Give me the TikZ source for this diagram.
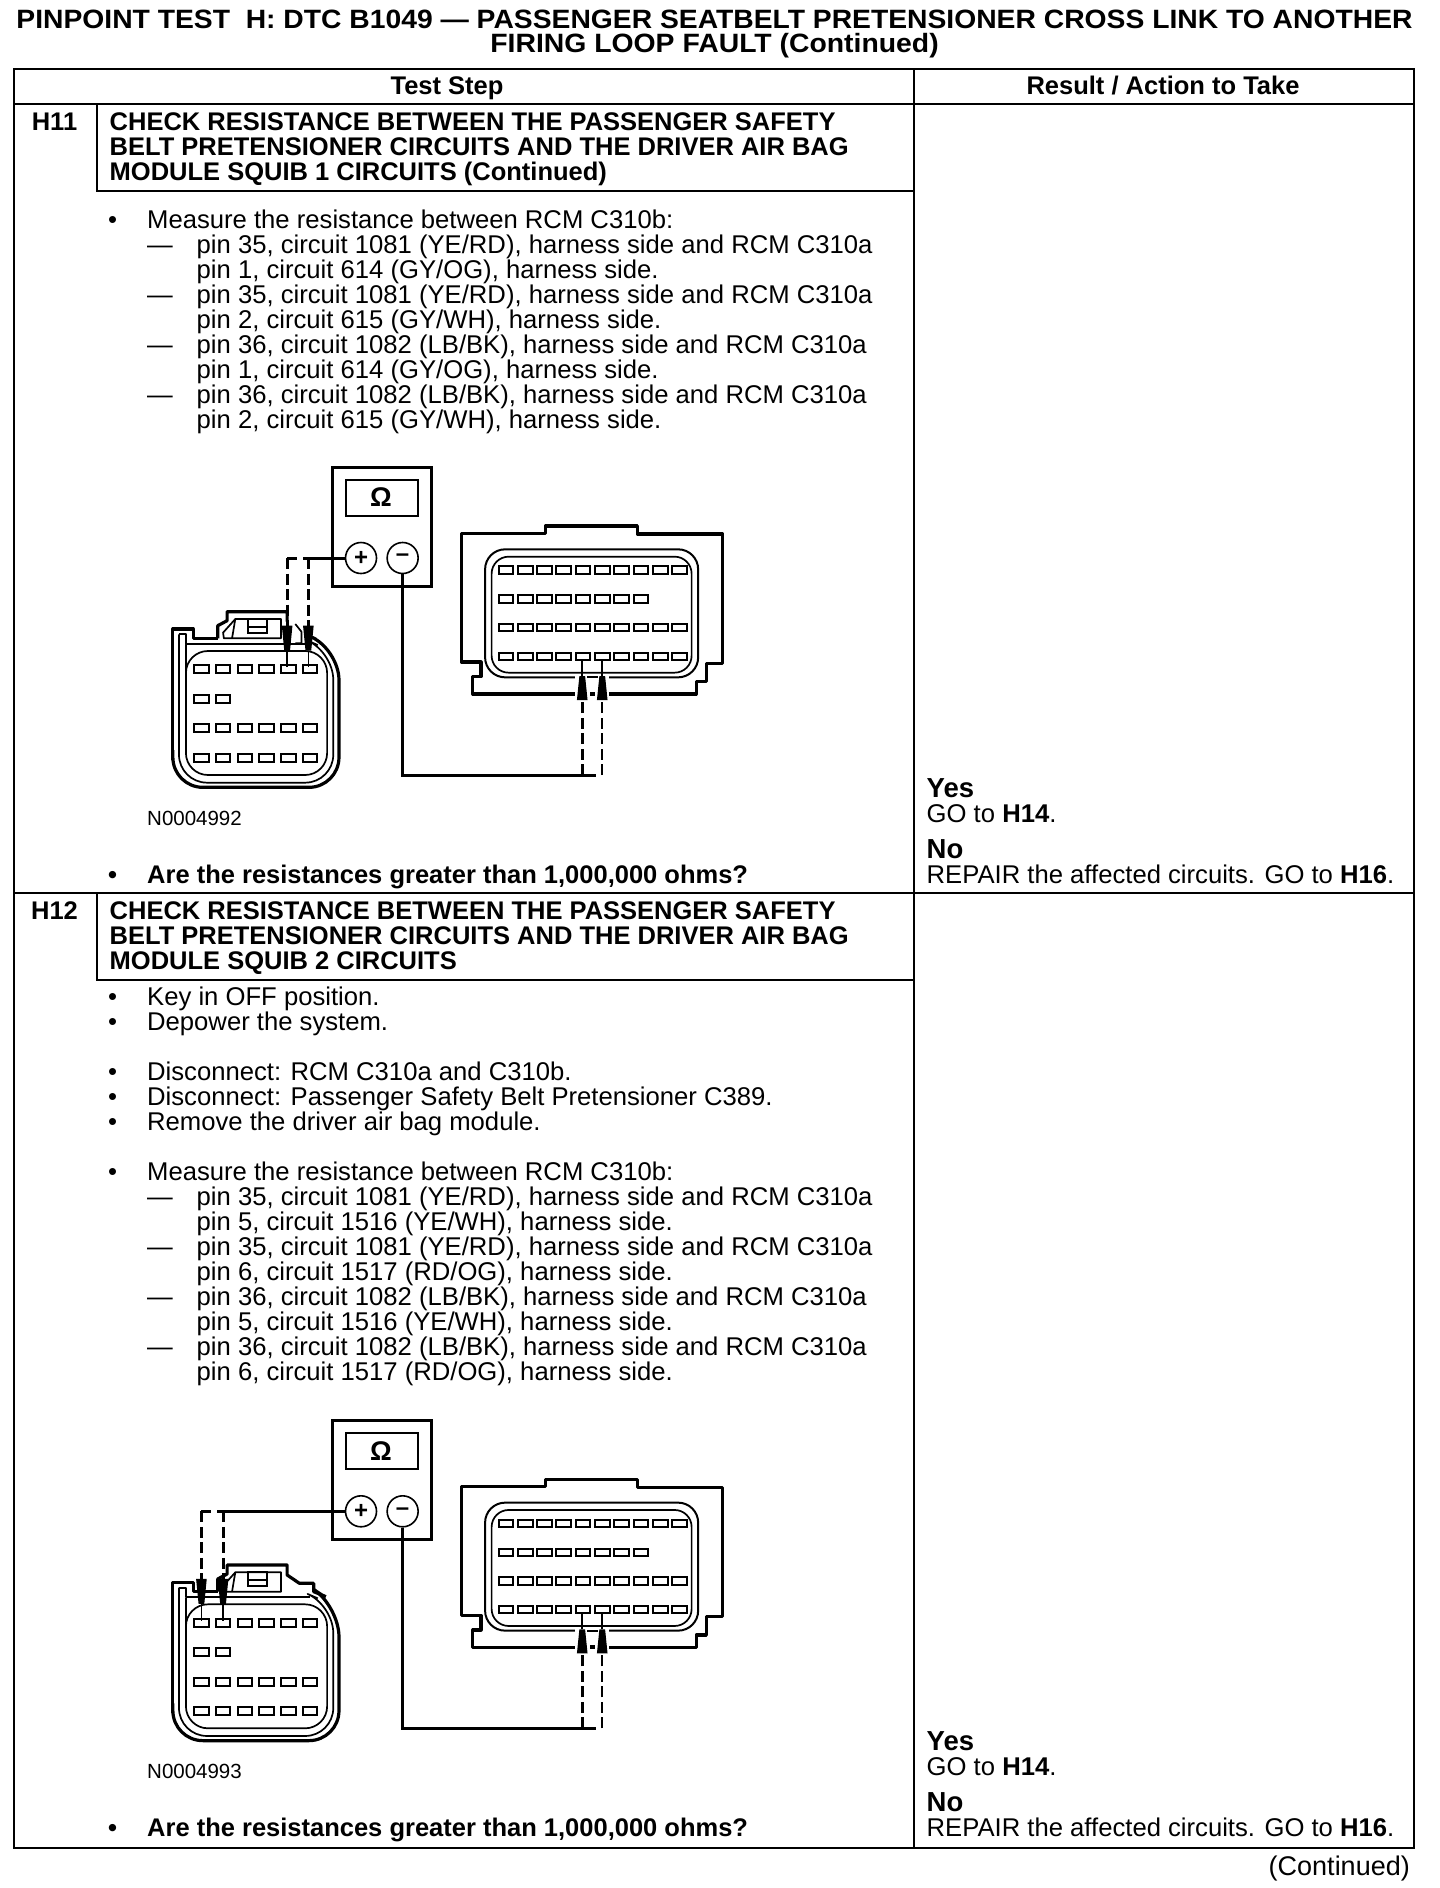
\documentclass[tikz,border=0pt]{standalone}
\usepackage{fontspec}
\setmainfont{Liberation Sans}
\tikzset{
  tbl/.style={line width=2pt,line cap=rect},
  txt/.style={inner sep=0pt,font=\fontsize{25.65}{25}\selectfont},
  btxt/.style={inner sep=0pt,font=\fontsize{25.5}{25}\selectfont\bfseries},
  ttl/.style={inner sep=0pt,font=\fontsize{26.5}{25}\selectfont\bfseries},
  ylab/.style={inner sep=0pt,font=\fontsize{27.5}{25}\selectfont\bfseries},
  wire/.style={line width=3pt},
  dwire/.style={line width=3pt,dash pattern=on 11pt off 4.5pt},
  outl/.style={line width=3.2pt,line join=round},
  thin1/.style={line width=1.7pt,line join=round},
  pinbox/.style={line width=2pt,draw=black,fill=white},
  term/.style={circle,draw,line width=1.6pt,fill=white,minimum size=31pt,inner sep=0pt,font=\fontsize{24}{24}\selectfont\bfseries}
}
\newcommand{\bul}[1]{\makebox[39pt][l]{•}#1}
\newcommand{\dsh}[1]{\hspace*{39pt}\makebox[49.5pt][l]{—}#1}
\newcommand{\cont}[1]{\hspace*{88.5pt}#1}
\newcommand{\probedown}[2]{\fill (#1-13,#2) -- (#1+13,#2) -- (#1+7,#2+75) -- (#1-7,#2+75) -- cycle;
  \draw[line width=1.6pt] (#1,#2+75) -- (#1,#2+125);}
\newcommand{\probeup}[2]{\fill (#1-13,#2) -- (#1+13,#2) -- (#1+7,#2-72) -- (#1-7,#2-72) -- cycle;
  \draw[line width=1.6pt] (#1,#2-72) -- (#1,#2-122);}
\newcommand{\meterdiagram}[3]{%
\begin{scope}[shift={(130pt,{-(450pt+#2)})},x=0.40816pt,y=-0.33333pt]
  % right connector
  \draw[outl] (812,636) -- (812,250) -- (1018,250) -- (1018,228) -- (1243,228) -- (1243,252) -- (1452,252)
     -- (1452,640) -- (1412,640) -- (1412,695) -- (1387,695) -- (1387,732) -- (840,732) -- (840,680)
     -- (860,680) -- (860,636) -- cycle;
  \draw[line width=2pt,rounded corners=20pt] (870,298) rectangle (1392,682);
  \draw[thin1,rounded corners=17pt] (886,320) rectangle (1376,668);
  \foreach \r/\n in {360/9,447/7,533/9,619/9}
    \foreach \i in {0,...,\n}
      \draw[pinbox] ({921+\i*47.3-18},\r-11) rectangle ({921+\i*47.3+18},\r+11);
  \fill[white] (1090,672) rectangle (1174,748);
  \fill (1126,726) rectangle (1140,738);
  \draw[thin1] (1120,682) -- (1146,682);
  % left connector
  \fill[white] (105,485) rectangle (512,1012);
  \draw[thin1,rounded corners=22pt] (137,650) -- (137,975) -- (483,975) -- (483,603) -- (137,603) -- cycle;
  \draw[thin1,rounded corners=28pt] (120,553) -- (120,998) -- (498,998) -- (498,605) -- (460,585);
  \draw[thin1] (120,553) -- (137,553) -- (137,582) -- (440,582);
  \draw[thin1] (230,565) -- (228,548) -- (258,507) -- (370,507) -- (370,565) -- cycle;
  \draw[thin1] (258,507) -- (250,565);
  \draw[line width=2pt] (290,507) rectangle (335,548);
  \draw[line width=2pt] (290,530) -- (335,530);
  \ifnum#3=1
    \draw[outl] (215,565) -- (155,565) -- (155,537) -- (105,537) -- (105,930);
    \draw[outl] (215,565) -- (215,527) -- (238,512) -- (238,485) -- (385,485) -- (385,515);
    \draw[thin1] (405,522) -- (420,545) -- (420,580) -- (405,580);
    \draw[outl,rounded corners=30pt] (455,567) -- (512,600) -- (512,1012) -- (105,1012) -- (105,900);
  \else
    \draw[outl] (215,565) -- (155,565) -- (155,537) -- (105,537) -- (105,930);
    \draw[outl] (215,565) -- (215,527) -- (238,512) -- (238,485) -- (385,485) -- (385,515) -- (415,540)
       -- (450,540) -- (450,565) -- (480,580);
    \draw[outl,rounded corners=30pt] (470,575) -- (512,610) -- (512,1012) -- (105,1012) -- (105,900);
  \fi
  \foreach \r/\n in {658/5,746/1,835/5,924/5}
    \foreach \i in {0,...,\n}
      \draw[pinbox] ({175+\i*53.2-18},\r-12) rectangle ({175+\i*53.2+18},\r+12);
  % meter
  \draw[line width=3pt,fill=white] (497,53) rectangle (738,410);
  \draw[line width=2pt] (528,90) rectangle (706,198);
  \node[btxt,font=\fontsize{27}{27}\selectfont\bfseries] (#1omega) at (615,142) {Ω};
  \node[term] (#1plus) at (566,324) {+};
  \node[term] (#1minus) at (668,324) {–};
  % probe wires
  \ifnum#3=1
    \coordinate (#1a) at (385,324);
    \coordinate (#1b) at (437,324);
    \coordinate (#1j) at (424,324);
    \coordinate (#1pa) at (385,527);
    \coordinate (#1pb) at (437,527);
  \else
    \coordinate (#1a) at (175,324);
    \coordinate (#1b) at (228,324);
    \coordinate (#1j) at (213,324);
    \coordinate (#1pa) at (175,527);
    \coordinate (#1pb) at (228,527);
  \fi
  \draw[wire] (#1plus.west) -- (#1j);
  \draw[wire,dash pattern=on 10pt off 6pt] (#1a) -- (#1j);
  \draw[dwire] (#1a) -- (#1pa);
  \draw[dwire] (#1b) -- (#1pb);
  \ifnum#3=1
    \probedown{385}{527}\probedown{437}{527}
  \else
    \probedown{175}{527}\probedown{228}{527}
  \fi
  \coordinate (#1c) at (668,975);
  \coordinate (#1d) at (1108,975);
  \coordinate (#1e) at (1142,975);
  \coordinate (#1f) at (1157,975);
  \coordinate (#1qa) at (1108,752);
  \coordinate (#1qb) at (1157,752);
  \draw[wire] (#1minus.south) -- (#1c) -- (#1e);
  \draw[dwire] (#1d) -- (#1qa);
  \draw[dwire,line width=2.2pt] (#1f) -- (#1qb);
  \probeup{1108}{750}\probeup{1157}{750}
\end{scope}}
\begin{document}
\begin{tikzpicture}[x=1pt,y=-1pt]
\useasboundingbox[fill=white] (0,0) rectangle (1440,1888);
% table
\draw[tbl] (14,69) rectangle (1414,1847.5);
\draw[tbl] (914,69) -- (914,1847.5);
\draw[tbl] (14,104) -- (1414,104);
\draw[tbl] (14,893) -- (1414,893);
\draw[tbl] (97,104) -- (97,190.5) -- (914,190.5);
\draw[tbl] (97,893) -- (97,980) -- (914,980);
% title
\node[ttl,anchor=base] (t1) at (714.5,28.5) {\scalebox{1.067}[1]{PINPOINT TEST\ \ H: DTC B1049 — PASSENGER SEATBELT PRETENSIONER CROSS LINK TO ANOTHER}};
\node[ttl,anchor=base] (t2) at (714.5,52.5) {\scalebox{1.07}[1]{FIRING LOOP FAULT (Continued)}};
\node[btxt,anchor=base] (h1) at (447,94.5) {Test Step};
\node[btxt,anchor=base] (h2) at (1163,94.5) {Result / Action to Take};
% H11
\node[btxt,anchor=base] (s11) at (54.5,130.5) {H11};
\node[btxt,anchor=north west,align=left] (s11t) at (109.5,112.5) {CHECK RESISTANCE BETWEEN THE PASSENGER SAFETY\\BELT PRETENSIONER CIRCUITS AND THE DRIVER AIR BAG\\MODULE SQUIB 1 CIRCUITS (Continued)};
\node[txt,anchor=north west,align=left] (b11) at (108,209.5) {\bul{Measure the resistance between RCM C310b:}\\
\dsh{pin 35, circuit 1081 (YE/RD), harness side and RCM C310a}\\
\cont{pin 1, circuit 614 (GY/OG), harness side.}\\
\dsh{pin 35, circuit 1081 (YE/RD), harness side and RCM C310a}\\
\cont{pin 2, circuit 615 (GY/WH), harness side.}\\
\dsh{pin 36, circuit 1082 (LB/BK), harness side and RCM C310a}\\
\cont{pin 1, circuit 614 (GY/OG), harness side.}\\
\dsh{pin 36, circuit 1082 (LB/BK), harness side and RCM C310a}\\
\cont{pin 2, circuit 615 (GY/WH), harness side.}};
\meterdiagram{m}{0pt}{1}
\node[inner sep=0pt,anchor=base west,font=\fontsize{20.5}{20}\selectfont] (n1) at (147,825) {N0004992};
\node[btxt,anchor=base west] (q1) at (108,883) {\bul{Are the resistances greater than 1,000,000 ohms?}};
\node[ylab,anchor=base west] (y1) at (926.5,797) {Yes};
\node[txt,anchor=base west] (y1t) at (926.5,822) {GO to \textbf{H14}.};
\node[ylab,anchor=base west] (n1a) at (926.5,858) {No};
\node[txt,anchor=base west] (n1t) at (926.5,883) {REPAIR the affected circuits. GO to \textbf{H16}.};
% H12
\node[btxt,anchor=base] (s12) at (54.5,919.8) {H12};
\node[btxt,anchor=north west,align=left] (s12t) at (109.5,901.8) {CHECK RESISTANCE BETWEEN THE PASSENGER SAFETY\\BELT PRETENSIONER CIRCUITS AND THE DRIVER AIR BAG\\MODULE SQUIB 2 CIRCUITS};
\node[txt,anchor=north west,align=left] (b12) at (108,987) {\bul{Key in OFF position.}\\
\bul{Depower the system.}\\
\mbox{}\\
\bul{Disconnect: RCM C310a and C310b.}\\
\bul{Disconnect: Passenger Safety Belt Pretensioner C389.}\\
\bul{Remove the driver air bag module.}\\
\mbox{}\\
\bul{Measure the resistance between RCM C310b:}\\
\dsh{pin 35, circuit 1081 (YE/RD), harness side and RCM C310a}\\
\cont{pin 5, circuit 1516 (YE/WH), harness side.}\\
\dsh{pin 35, circuit 1081 (YE/RD), harness side and RCM C310a}\\
\cont{pin 6, circuit 1517 (RD/OG), harness side.}\\
\dsh{pin 36, circuit 1082 (LB/BK), harness side and RCM C310a}\\
\cont{pin 5, circuit 1516 (YE/WH), harness side.}\\
\dsh{pin 36, circuit 1082 (LB/BK), harness side and RCM C310a}\\
\cont{pin 6, circuit 1517 (RD/OG), harness side.}};
\meterdiagram{k}{953.3pt}{2}
\node[inner sep=0pt,anchor=base west,font=\fontsize{20.5}{20}\selectfont] (n2) at (147,1778.3) {N0004993};
\node[btxt,anchor=base west] (q2) at (108,1836.3) {\bul{Are the resistances greater than 1,000,000 ohms?}};
\node[ylab,anchor=base west] (y2) at (926.5,1750.3) {Yes};
\node[txt,anchor=base west] (y2t) at (926.5,1775.3) {GO to \textbf{H14}.};
\node[ylab,anchor=base west] (n2a) at (926.5,1811.3) {No};
\node[txt,anchor=base west] (n2t) at (926.5,1836.3) {REPAIR the affected circuits. GO to \textbf{H16}.};
\node[inner sep=0pt,anchor=base east,font=\fontsize{27}{27}\selectfont] (c) at (1410,1875) {(Continued)};
\end{tikzpicture}
\end{document}
